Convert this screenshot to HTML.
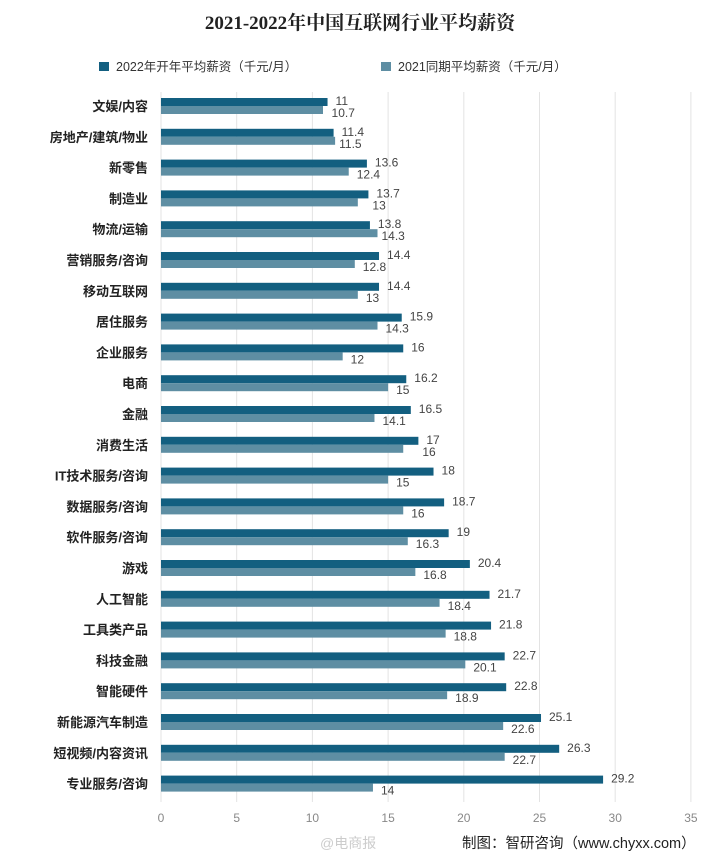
<!DOCTYPE html>
<html><head><meta charset="utf-8"><style>
body{margin:0;background:#fff;}
svg{display:block;font-family:"Liberation Sans","Noto Sans CJK SC",sans-serif;}
</style></head><body>
<svg width="720" height="863" viewBox="0 0 720 863">
<rect width="720" height="863" fill="#fff"/>
<text x="360" y="29" text-anchor="middle" font-family="'Liberation Serif','Noto Serif CJK SC',serif" font-size="19" font-weight="bold" fill="#222">2021-2022年中国互联网行业平均薪资</text>
<rect x="99" y="62" width="10" height="9" fill="#135f80"/>
<text x="116" y="71" font-size="12.5" fill="#333">2022年开年平均薪资（千元/月）</text>
<rect x="381" y="62" width="10" height="9" fill="#5e8ea3"/>
<text x="398" y="71" font-size="12.5" fill="#333">2021同期平均薪资（千元/月）</text>
<g id="grid"></g>
<g id="bars"></g>
</svg>
<script>
var d=[["文娱/内容",11,10.7],["房地产/建筑/物业",11.4,11.5],["新零售",13.6,12.4],["制造业",13.7,13],["物流/运输",13.8,14.3],["营销服务/咨询",14.4,12.8],["移动互联网",14.4,13],["居住服务",15.9,14.3],["企业服务",16,12],["电商",16.2,15],["金融",16.5,14.1],["消费生活",17,16],["IT技术服务/咨询",18,15],["数据服务/咨询",18.7,16],["软件服务/咨询",19,16.3],["游戏",20.4,16.8],["人工智能",21.7,18.4],["工具类产品",21.8,18.8],["科技金融",22.7,20.1],["智能硬件",22.8,18.9],["新能源汽车制造",25.1,22.6],["短视频/内容资讯",26.3,22.7],["专业服务/咨询",29.2,14]];
var ns="http://www.w3.org/2000/svg",g=document.getElementById("bars"),gr=document.getElementById("grid");
function el(t,a,p,txt){var e=document.createElementNS(ns,t);for(var k in a)e.setAttribute(k,a[k]);if(txt!==undefined)e.textContent=txt;p.appendChild(e);return e;}
var x0=161,s=15.14;
for(var i=0;i<=7;i++){var x=x0+i*5*s;el("line",{x1:x,y1:92,x2:x,y2:802,stroke:"#e3e3e3","stroke-width":1},gr);el("text",{x:x,y:822,"text-anchor":"middle","font-size":"12",fill:"#888"},gr,i*5);}
d.forEach(function(r,i){var c=106+i*30.8;
el("rect",{x:x0,y:c-8,width:r[1]*s,height:8,fill:"#135f80"},g);
el("rect",{x:x0,y:c,width:r[2]*s,height:8,fill:"#5e8ea3"},g);
el("text",{x:x0+r[1]*s+8,y:c-1,"font-size":"12",fill:"#444"},g,r[1]);
el("text",{x:x0+Math.max(r[1],r[2])*s+(r[2]<r[1]-1?-r[1]*s+r[2]*s+8:4),y:c+11,"font-size":"12",fill:"#444"},g,r[2]);
el("text",{x:148,y:c+5,"text-anchor":"end","font-size":"13","font-weight":"bold",fill:"#222"},g,r[0]);
});
</script>
<div style="position:absolute;left:320px;top:833px;font-family:'Liberation Sans','Noto Sans CJK SC',sans-serif;font-size:14px;color:#ccc;">@电商报</div>
<div style="position:absolute;left:462px;top:832px;font-family:'Liberation Sans','Noto Sans CJK SC',sans-serif;font-size:14.5px;color:#222;">制图：智研咨询（www.chyxx.com）</div>
</body></html>
